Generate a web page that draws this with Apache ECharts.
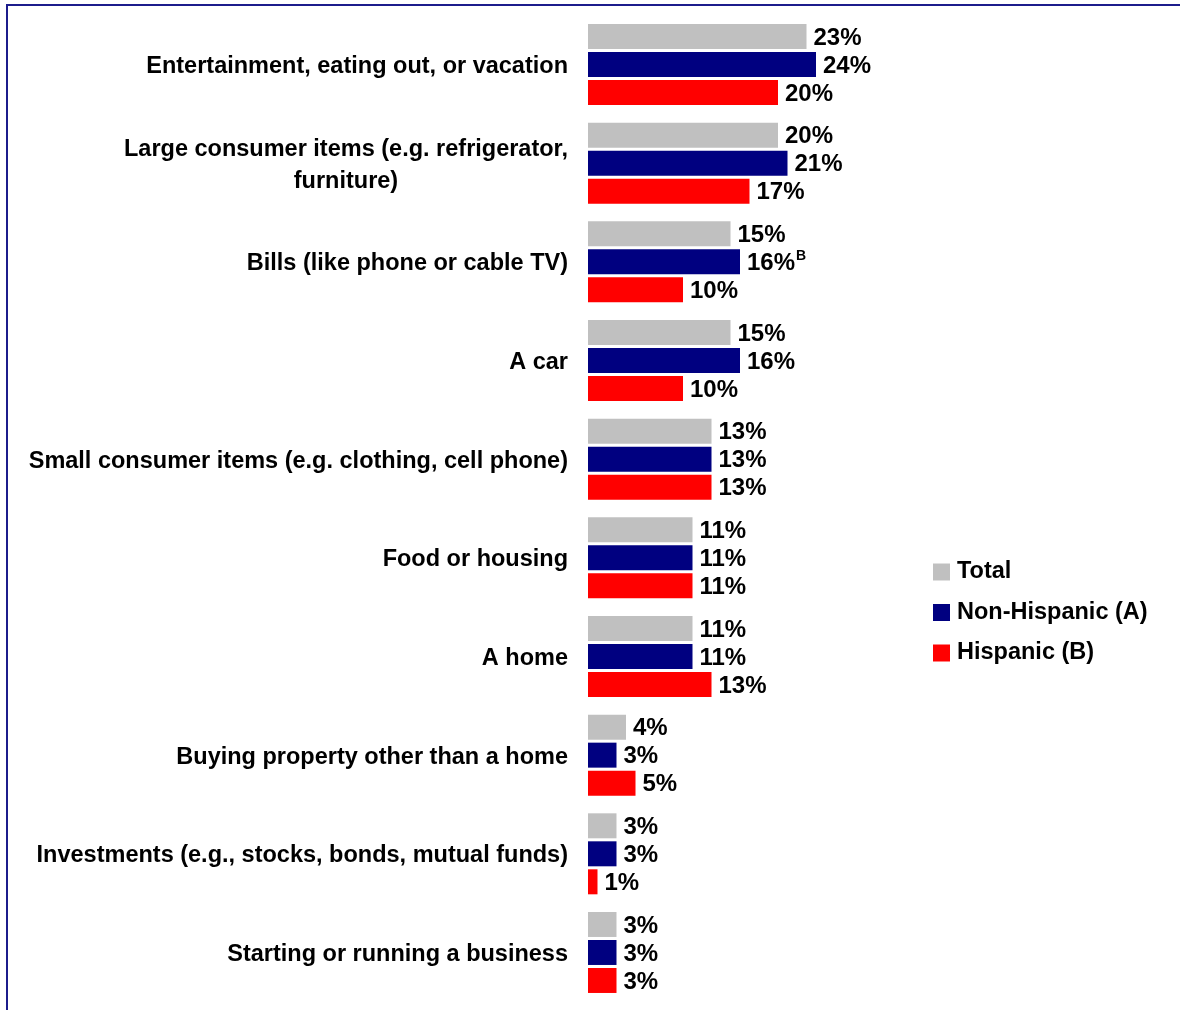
<!DOCTYPE html>
<html>
<head>
<meta charset="utf-8">
<title>Spending categories</title>
<script src="https://cdn.jsdelivr.net/npm/echarts@6/dist/echarts.min.js"></script>
<style>
  html, body { margin: 0; padding: 0; background: #ffffff; }
  #chart { width: 1180px; height: 1010px; }
</style>
</head>
<body>
<div id="chart"></div>
<script>
// Categories, top to bottom
const categories = [
  'Entertainment, eating out, or vacation',
  'Large consumer items (e.g. refrigerator,\nfurniture)',
  'Bills (like phone or cable TV)',
  'A car',
  'Small consumer items (e.g. clothing, cell phone)',
  'Food or housing',
  'A home',
  'Buying property other than a home',
  'Investments (e.g., stocks, bonds, mutual funds)',
  'Starting or running a business'
];

// Percent values per group
const totalValues       = [23, 20, 15, 15, 13, 11, 11, 4, 3, 3];
const nonHispanicValues = [24, 21, 16, 16, 13, 11, 11, 3, 3, 3];
const hispanicValues    = [20, 17, 10, 10, 13, 11, 13, 5, 1, 3];

// Significance markers (letter of the group it differs from)
const totalSig       = ['', '', '', '', '', '', '', '', '', ''];
const nonHispanicSig = ['', '', 'B', '', '', '', '', '', '', ''];
const hispanicSig    = ['', '', '', '', '', '', '', '', '', ''];

const seriesNames = ['Total', 'Non-Hispanic (A)', 'Hispanic (B)'];
const seriesColors = ['#c0c0c0', '#000080', '#ff0000'];

const FONT = '"Liberation Sans", Arial, Helvetica, sans-serif';
const FS = 23.5;      // category and legend text
const FS_VAL = 24;    // value labels

const chart = echarts.init(document.getElementById('chart'), null, { renderer: 'canvas' });

function valueLabel(sig) {
  return {
    show: true,
    position: 'right',
    distance: 7,
    padding: [3, 0, 0, 0],
    formatter: function (p) {
      const s = sig[p.dataIndex];
      return '{v|' + p.value + '%}' + (s ? '{sup|' + s + '}' : '');
    },
    rich: {
      v: { fontFamily: FONT, fontSize: FS_VAL, fontWeight: 'bold', color: '#000' },
      sup: { fontFamily: FONT, fontSize: 14, fontWeight: 'bold', color: '#000',
             verticalAlign: 'bottom', padding: [0, 0, 14, 1] }
    }
  };
}

function makeSeries(name, data, color, sig) {
  return {
    name: name,
    type: 'bar',
    data: data,
    barWidth: 25,
    barGap: '12%',
    itemStyle: { color: color },
    label: valueLabel(sig),
    emphasis: { disabled: true },
    animation: false
  };
}

const option = {
  backgroundColor: '#ffffff',
  animation: false,
  grid: {
    left: 588,
    top: 15.2,
    bottom: 8.2,
    width: 285,
    containLabel: false
  },
  xAxis: {
    type: 'value',
    min: 0,
    max: 30,
    show: false
  },
  yAxis: {
    type: 'category',
    data: categories,
    inverse: true,
    axisLine: { show: false },
    axisTick: { show: false },
    splitLine: { show: false },
    axisLabel: {
      margin: 20,
      align: 'right',
      lineHeight: 32,
      padding: [4, 0, 0, 0],
      formatter: function (v) {
        return v.split('\n').map(function (line) { return '{c|' + line + '}'; }).join('\n');
      },
      rich: {
        c: { fontFamily: FONT, fontSize: FS, fontWeight: 'bold', color: '#000',
             align: 'center', lineHeight: 32 }
      }
    }
  },
  legend: {
    orient: 'vertical',
    left: 933,
    top: 560,
    padding: 0,
    itemWidth: 17,
    itemHeight: 17,
    itemGap: 16.5,
    icon: 'rect',
    selectedMode: false,
    data: seriesNames,
    textStyle: { fontFamily: FONT, fontSize: FS, fontWeight: 'bold', color: '#000', padding: [2, 0, 0, 2] }
  },
  graphic: [
    {
      type: 'rect',
      silent: true,
      shape: { x: 7, y: 5, width: 1200, height: 1100 },
      style: { fill: null, stroke: '#1c1c8c', lineWidth: 2 }
    }
  ],
  series: [
    makeSeries(seriesNames[0], totalValues, seriesColors[0], totalSig),
    makeSeries(seriesNames[1], nonHispanicValues, seriesColors[1], nonHispanicSig),
    makeSeries(seriesNames[2], hispanicValues, seriesColors[2], hispanicSig)
  ]
};

chart.setOption(option);
</script>
</body>
</html>
